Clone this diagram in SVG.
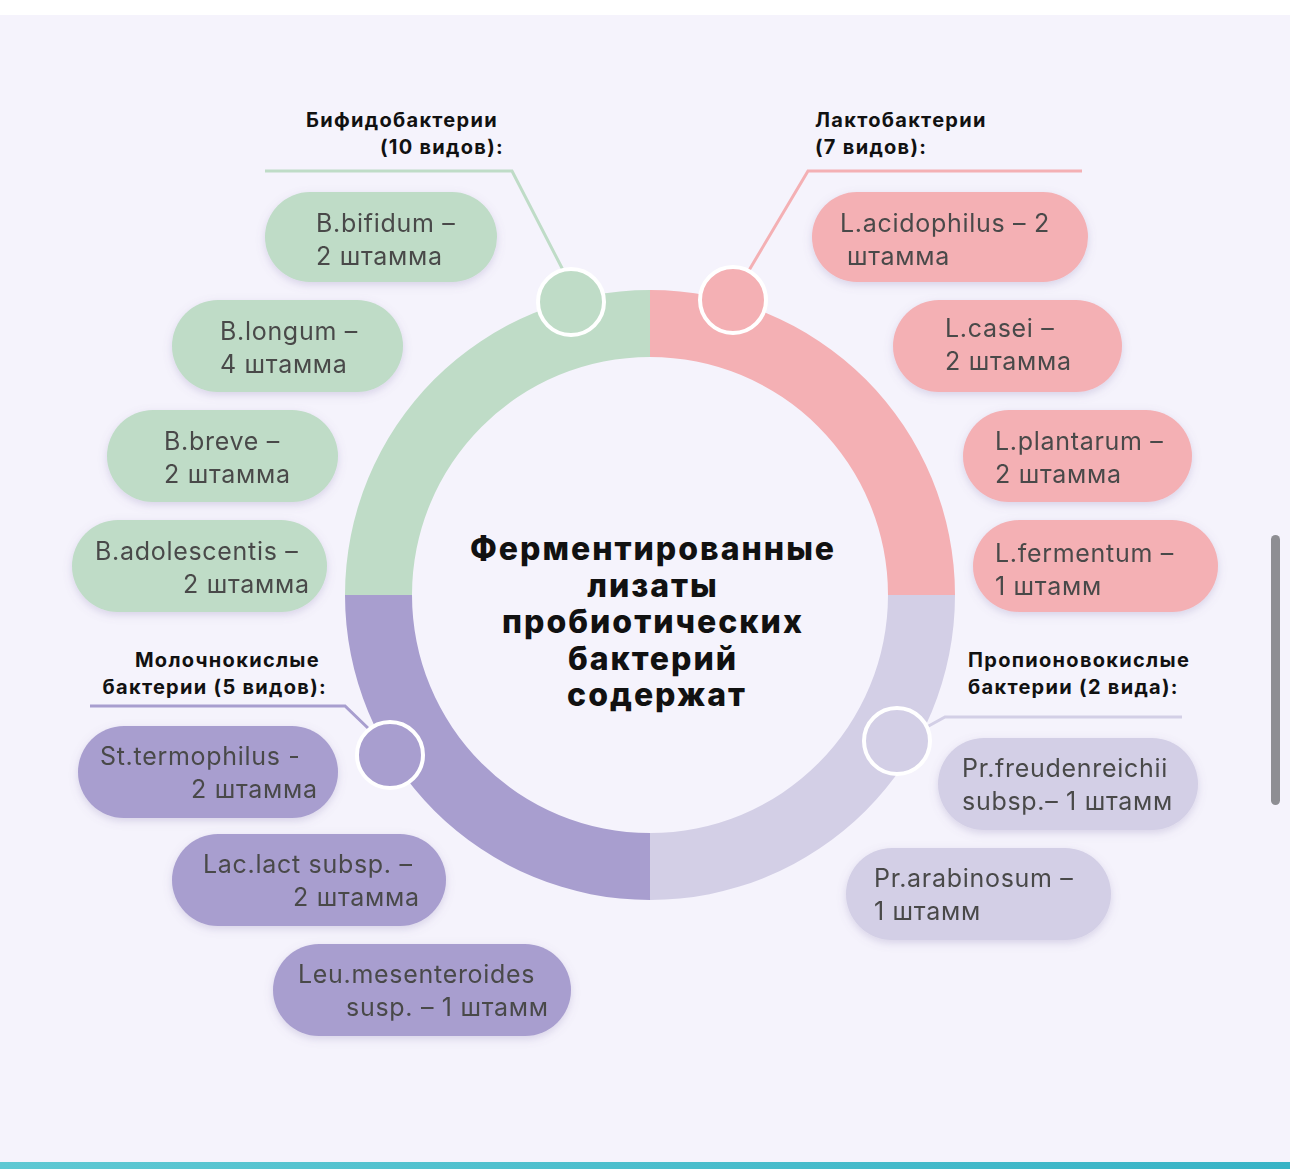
<svg xmlns="http://www.w3.org/2000/svg" width="1290" height="1169" viewBox="0 0 1290 1169">
<defs>
<filter id="sh" x="-20%" y="-30%" width="140%" height="160%"><feDropShadow dx="0" dy="3" stdDeviation="4" flood-color="#7a70a8" flood-opacity="0.25"/></filter>
<linearGradient id="bar" x1="0" x2="1"><stop offset="0" stop-color="#5ec8d3"/><stop offset="1" stop-color="#37b3c6"/></linearGradient>
<style>
.p{font-family:Inter,"Open Sans",sans-serif;font-size:25px;fill:#4a4a4a;letter-spacing:0.7px}
.h{font-family:Inter,"Open Sans",sans-serif;font-size:20px;font-weight:700;fill:#111;letter-spacing:1.3px}
.c{font-family:Inter,"Open Sans",sans-serif;font-size:32px;font-weight:800;fill:#111;text-anchor:middle;letter-spacing:2px}
.g{fill:#bfdcc7}.k{fill:#f4b0b4}.v{fill:#a89ecf}.l{fill:#d3cfe6}
.dot{stroke:#fff;stroke-width:4}
</style>
</defs>
<rect width="1290" height="1169" fill="#fff"/>
<rect y="15" width="1290" height="1148" fill="#f5f3fc"/>
<rect y="1162" width="1290" height="7" fill="url(#bar)"/>
<rect x="1271" y="535" width="9" height="270" rx="4.5" fill="#8e8e93"/>
<g id="ring">
<path class="g" d="M345 595 A305 305 0 0 1 650 290 L650 357 A238 238 0 0 0 412 595 Z"/>
<path class="k" d="M650 290 A305 305 0 0 1 955 595 L888 595 A238 238 0 0 0 650 357 Z"/>
<path class="l" d="M955 595 A305 305 0 0 1 650 900 L650 833 A238 238 0 0 0 888 595 Z"/>
<path class="v" d="M650 900 A305 305 0 0 1 345 595 L412 595 A238 238 0 0 0 650 833 Z"/>
</g>
<g id="connectors" fill="none" stroke-width="3">
<polyline points="563,270 512,171 265,171" stroke="#bfdcc7"/>
<polyline points="748,272 808,171 1082,171" stroke="#f4b0b4"/>
<polyline points="370,730 345,706 90,706" stroke="#a89ecf"/>
<polyline points="925,728 945,717 1182,717" stroke="#d3cfe6"/>
</g>
<g id="dots">
<circle class="g dot" cx="571" cy="302" r="33"/>
<circle class="k dot" cx="733" cy="300" r="33"/>
<circle class="v dot" cx="390" cy="755" r="33"/>
<circle class="l dot" cx="897" cy="741" r="33"/>
</g>
<g id="center"><text class="c" x="653" y="560">Ферментированные</text><text class="c" x="653" y="597">лизаты</text><text class="c" x="653" y="633">пробиотических</text><text class="c" x="653" y="670">бактерий</text><text class="c" x="657" y="706">содержат</text></g>
<g id="headings">
<text class="h" x="498" y="127" text-anchor="end">Бифидобактерии</text><text class="h" x="504" y="154" text-anchor="end">(10 видов):</text>
<text class="h" x="815" y="127">Лактобактерии</text><text class="h" x="815" y="154">(7 видов):</text>
<text class="h" x="320" y="667" text-anchor="end">Молочнокислые</text><text class="h" x="327" y="694" text-anchor="end">бактерии (5 видов):</text>
<text class="h" x="968" y="667">Пропионовокислые</text><text class="h" x="968" y="694">бактерии (2 вида):</text>
</g>
<g id="n1" filter="url(#sh)"><rect class="g" x="265" y="192" width="232" height="90" rx="45"/><text class="p" x="316" y="232">B.bifidum –</text><text class="p" x="316" y="265">2 штамма</text></g>
<g id="n2" filter="url(#sh)"><rect class="g" x="172" y="300" width="231" height="92" rx="46"/><text class="p" x="220" y="340">B.longum –</text><text class="p" x="220" y="373">4 штамма</text></g>
<g id="n3" filter="url(#sh)"><rect class="g" x="107" y="410" width="231" height="92" rx="46"/><text class="p" x="164" y="450">B.breve –</text><text class="p" x="164" y="483">2 штамма</text></g>
<g id="n4" filter="url(#sh)"><rect class="g" x="72" y="520" width="255" height="92" rx="46"/><text class="p" x="95" y="560">B.adolescentis –</text><text class="p" x="183" y="593">2 штамма</text></g>
<g id="n5" filter="url(#sh)"><rect class="k" x="812" y="192" width="276" height="90" rx="45"/><text class="p" x="840" y="232">L.acidophilus – 2</text><text class="p" x="847" y="265">штамма</text></g>
<g id="n6" filter="url(#sh)"><rect class="k" x="893" y="300" width="229" height="92" rx="46"/><text class="p" x="945" y="337">L.casei –</text><text class="p" x="945" y="370">2 штамма</text></g>
<g id="n7" filter="url(#sh)"><rect class="k" x="963" y="410" width="229" height="92" rx="46"/><text class="p" x="995" y="450">L.plantarum –</text><text class="p" x="995" y="483">2 штамма</text></g>
<g id="n8" filter="url(#sh)"><rect class="k" x="973" y="520" width="245" height="92" rx="46"/><text class="p" x="995" y="562">L.fermentum –</text><text class="p" x="995" y="595">1 штамм</text></g>
<g id="n9" filter="url(#sh)"><rect class="v" x="78" y="726" width="260" height="92" rx="46"/><text class="p" x="100" y="765">St.termophilus  -</text><text class="p" x="191" y="798">2 штамма</text></g>
<g id="n10" filter="url(#sh)"><rect class="v" x="172" y="834" width="274" height="92" rx="46"/><text class="p" x="203" y="873">Lac.lact subsp. –</text><text class="p" x="293" y="906">2 штамма</text></g>
<g id="n11" filter="url(#sh)"><rect class="v" x="273" y="944" width="298" height="92" rx="46"/><text class="p" x="298" y="983">Leu.mesenteroides</text><text class="p" x="346" y="1016">susp. – 1 штамм</text></g>
<g id="n12" filter="url(#sh)"><rect class="l" x="938" y="738" width="260" height="92" rx="46"/><text class="p" x="962" y="777">Pr.freudenreichii</text><text class="p" x="962" y="810">subsp.– 1 штамм</text></g>
<g id="n13" filter="url(#sh)"><rect class="l" x="846" y="848" width="265" height="92" rx="46"/><text class="p" x="874" y="887">Pr.arabinosum –</text><text class="p" x="874" y="920">1 штамм</text></g>
</svg>
